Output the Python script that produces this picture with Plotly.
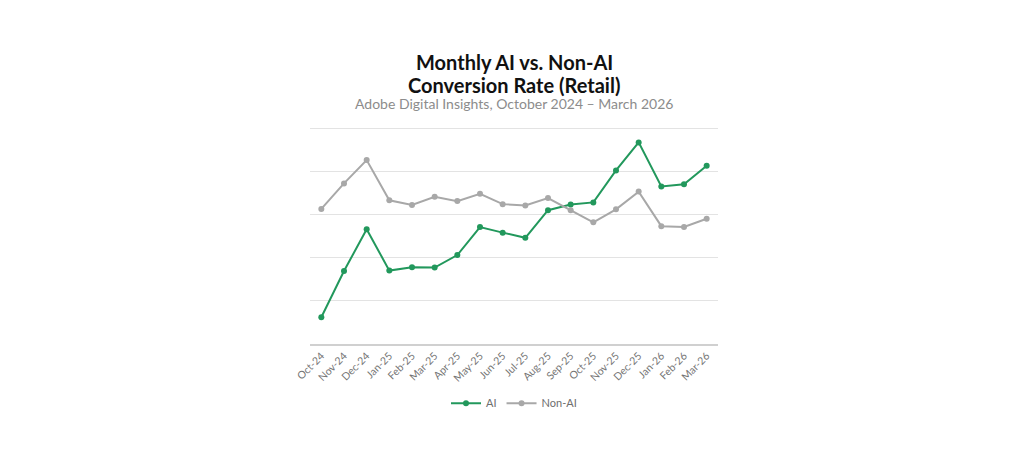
import plotly.graph_objects as go

months = ["Oct-24", "Nov-24", "Dec-24", "Jan-25", "Feb-25", "Mar-25", "Apr-25",
          "May-25", "Jun-25", "Jul-25", "Aug-25", "Sep-25", "Oct-25", "Nov-25",
          "Dec-25", "Jan-26", "Feb-26", "Mar-26"]
ai_rate = [0.62, 1.69, 2.66, 1.70, 1.78, 1.77, 2.06, 2.71, 2.58, 2.46, 3.10,
           3.23, 3.28, 4.02, 4.67, 3.65, 3.70, 4.13]
non_ai_rate = [3.13, 3.72, 4.26, 3.33, 3.22, 3.41, 3.31, 3.48, 3.24, 3.21, 3.38,
               3.10, 2.82, 3.12, 3.53, 2.73, 2.71, 2.90]

GREEN = "#22985c"
GREY = "#a8a8a8"
FONT = "Lato, Open Sans, sans-serif"

fig = go.Figure()
fig.add_trace(go.Scatter(x=months, y=ai_rate, name="AI", mode="lines+markers",
                         line=dict(color=GREEN, width=2),
                         marker=dict(color=GREEN, size=6)))
fig.add_trace(go.Scatter(x=months, y=non_ai_rate, name="Non-AI", mode="lines+markers",
                         line=dict(color=GREY, width=2),
                         marker=dict(color=GREY, size=6)))

# page body adds ~8px offset, margins compensate
fig.update_layout(
    width=1024, height=463,
    margin=dict(l=302, r=314, t=118, b=127),
    paper_bgcolor="white", plot_bgcolor="white",
    font=dict(family=FONT, color="#6e6e6e"),
    showlegend=True,
    legend=dict(orientation="h", x=0.5, xanchor="center", y=-0.205, yanchor="top",
                font=dict(size=11, color="#6e6e6e")),
    xaxis=dict(type="category", tickangle=-45, tickfont=dict(size=10.5, color="#757575"),
               showgrid=False, showline=True, linecolor="#d0d0d0", linewidth=1.5,
               ticks="", range=[-0.5, 17.5]),
    yaxis=dict(range=[0, 5.05], dtick=1, showticklabels=False, showgrid=True,
               gridcolor="#e3e3e3", gridwidth=1, zeroline=False, showline=False),
    annotations=[
        dict(text="<b>Monthly AI vs. Non-AI</b>",
             xref="paper", yref="paper", x=0.5, y=1.0, yshift=64, xanchor="center",
             yanchor="middle", showarrow=False,
             font=dict(size=20, color="#111111", family=FONT)),
        dict(text="<b>Conversion Rate (Retail)</b>",
             xref="paper", yref="paper", x=0.5, y=1.0, yshift=41, xanchor="center",
             yanchor="middle", showarrow=False,
             font=dict(size=20, color="#111111", family=FONT)),
        dict(text="Adobe Digital Insights, October 2024 \u2013 March 2026",
             xref="paper", yref="paper", x=0.5, y=1.0, yshift=23, xanchor="center",
             yanchor="middle", showarrow=False,
             font=dict(size=14, color="#8c8c8c", family=FONT)),
    ],
)

fig.write_html("out.html")
